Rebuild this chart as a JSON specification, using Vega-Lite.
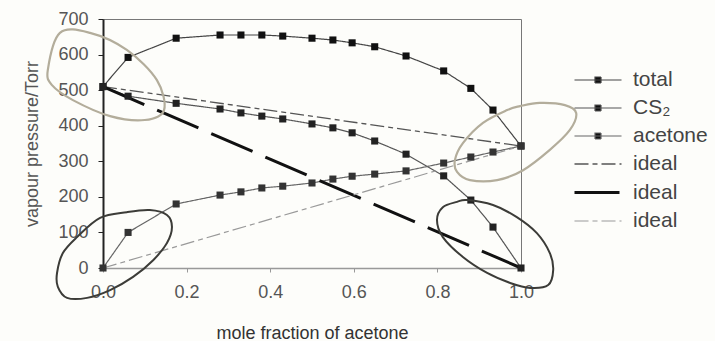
{
  "$schema": "https://vega.github.io/schema/vega-lite/v6.json",
  "width": 418,
  "height": 249,
  "autosize": "none",
  "padding": {"left": 103, "top": 19, "right": 194, "bottom": 73},
  "background": "#fdfdfa",
  "config": {
    "view": {"stroke": "#777", "strokeWidth": 1},
    "font": "Liberation Sans",
    "axisY": {"labelOverlap": false},
    "axisX": {"labelOverlap": false}
  },
  "datasets": {
    "curves": [
      {"x": 0, "p": 510, "s": "total"}, {"x": 0.06, "p": 592, "s": "total"}, {"x": 0.175, "p": 646, "s": "total"},
      {"x": 0.28, "p": 655, "s": "total"}, {"x": 0.33, "p": 655, "s": "total"}, {"x": 0.38, "p": 655, "s": "total"},
      {"x": 0.43, "p": 652, "s": "total"}, {"x": 0.5, "p": 646, "s": "total"}, {"x": 0.55, "p": 641, "s": "total"},
      {"x": 0.596, "p": 633, "s": "total"}, {"x": 0.65, "p": 622, "s": "total"}, {"x": 0.725, "p": 596, "s": "total"},
      {"x": 0.815, "p": 554, "s": "total"}, {"x": 0.88, "p": 505, "s": "total"}, {"x": 0.933, "p": 444, "s": "total"},
      {"x": 1, "p": 343, "s": "total"},
      {"x": 0, "p": 510, "s": "CS2"}, {"x": 0.06, "p": 483, "s": "CS2"}, {"x": 0.175, "p": 463, "s": "CS2"},
      {"x": 0.28, "p": 447, "s": "CS2"}, {"x": 0.33, "p": 436, "s": "CS2"}, {"x": 0.38, "p": 427, "s": "CS2"},
      {"x": 0.43, "p": 419, "s": "CS2"}, {"x": 0.5, "p": 405, "s": "CS2"}, {"x": 0.55, "p": 394, "s": "CS2"},
      {"x": 0.596, "p": 380, "s": "CS2"}, {"x": 0.65, "p": 357, "s": "CS2"}, {"x": 0.725, "p": 320, "s": "CS2"},
      {"x": 0.815, "p": 259, "s": "CS2"}, {"x": 0.88, "p": 191, "s": "CS2"}, {"x": 0.933, "p": 115, "s": "CS2"},
      {"x": 1, "p": 0, "s": "CS2"},
      {"x": 0, "p": 0, "s": "acetone"}, {"x": 0.06, "p": 100, "s": "acetone"}, {"x": 0.175, "p": 180, "s": "acetone"},
      {"x": 0.28, "p": 205, "s": "acetone"}, {"x": 0.33, "p": 214, "s": "acetone"}, {"x": 0.38, "p": 225, "s": "acetone"},
      {"x": 0.43, "p": 230, "s": "acetone"}, {"x": 0.5, "p": 239, "s": "acetone"}, {"x": 0.55, "p": 250, "s": "acetone"},
      {"x": 0.596, "p": 258, "s": "acetone"}, {"x": 0.65, "p": 264, "s": "acetone"}, {"x": 0.725, "p": 273, "s": "acetone"},
      {"x": 0.815, "p": 295, "s": "acetone"}, {"x": 0.88, "p": 312, "s": "acetone"}, {"x": 0.933, "p": 326, "s": "acetone"},
      {"x": 1, "p": 343, "s": "acetone"},
      {"x": 0, "p": 510, "s": "ideal_t"}, {"x": 1, "p": 343, "s": "ideal_t"},
      {"x": 0, "p": 510, "s": "ideal_c"}, {"x": 1, "p": 0, "s": "ideal_c"},
      {"x": 0, "p": 0, "s": "ideal_a"}, {"x": 1, "p": 343, "s": "ideal_a"}
    ],
    "ellG": [
      {"e": "e1", "i": 1, "x": -0.132, "p": 557}, {"e": "e1", "i": 2, "x": -0.103, "p": 661},
      {"e": "e1", "i": 3, "x": -0.031, "p": 661}, {"e": "e1", "i": 4, "x": 0.057, "p": 613},
      {"e": "e1", "i": 5, "x": 0.129, "p": 528}, {"e": "e1", "i": 6, "x": 0.146, "p": 444},
      {"e": "e1", "i": 7, "x": 0.1, "p": 416}, {"e": "e1", "i": 8, "x": 0.017, "p": 427},
      {"e": "e1", "i": 9, "x": -0.072, "p": 472}, {"e": "e1", "i": 10, "x": -0.122, "p": 514},
      {"e": "e3", "i": 1, "x": 0.967, "p": 444}, {"e": "e3", "i": 2, "x": 0.909, "p": 408},
      {"e": "e3", "i": 3, "x": 0.861, "p": 351}, {"e": "e3", "i": 4, "x": 0.842, "p": 304},
      {"e": "e3", "i": 5, "x": 0.847, "p": 270}, {"e": "e3", "i": 6, "x": 0.878, "p": 247},
      {"e": "e3", "i": 7, "x": 0.943, "p": 247}, {"e": "e3", "i": 8, "x": 1.005, "p": 275},
      {"e": "e3", "i": 9, "x": 1.069, "p": 332}, {"e": "e3", "i": 10, "x": 1.117, "p": 388},
      {"e": "e3", "i": 11, "x": 1.132, "p": 436}, {"e": "e3", "i": 12, "x": 1.105, "p": 458},
      {"e": "e3", "i": 13, "x": 1.045, "p": 464}, {"e": "e3", "i": 14, "x": 0.998, "p": 455}
    ],
    "ellD": [
      {"e": "e2", "i": 1, "x": -0.007, "p": 141}, {"e": "e2", "i": 2, "x": 0.057, "p": 157},
      {"e": "e2", "i": 3, "x": 0.112, "p": 163}, {"e": "e2", "i": 4, "x": 0.153, "p": 149},
      {"e": "e2", "i": 5, "x": 0.165, "p": 115}, {"e": "e2", "i": 6, "x": 0.153, "p": 70},
      {"e": "e2", "i": 7, "x": 0.12, "p": 22}, {"e": "e2", "i": 8, "x": 0.072, "p": -25},
      {"e": "e2", "i": 9, "x": 0.017, "p": -62}, {"e": "e2", "i": 10, "x": -0.038, "p": -84},
      {"e": "e2", "i": 11, "x": -0.086, "p": -84}, {"e": "e2", "i": 12, "x": -0.108, "p": -53},
      {"e": "e2", "i": 13, "x": -0.11, "p": -14}, {"e": "e2", "i": 14, "x": -0.096, "p": 42},
      {"e": "e2", "i": 15, "x": -0.062, "p": 87},
      {"e": "e4", "i": 1, "x": 0.871, "p": 191}, {"e": "e4", "i": 2, "x": 0.933, "p": 177},
      {"e": "e4", "i": 3, "x": 0.99, "p": 143}, {"e": "e4", "i": 4, "x": 1.038, "p": 98},
      {"e": "e4", "i": 5, "x": 1.069, "p": 42}, {"e": "e4", "i": 6, "x": 1.077, "p": -6},
      {"e": "e4", "i": 7, "x": 1.065, "p": -48}, {"e": "e4", "i": 8, "x": 1.022, "p": -56},
      {"e": "e4", "i": 9, "x": 0.974, "p": -42}, {"e": "e4", "i": 10, "x": 0.919, "p": -14},
      {"e": "e4", "i": 11, "x": 0.861, "p": 31}, {"e": "e4", "i": 12, "x": 0.813, "p": 87},
      {"e": "e4", "i": 13, "x": 0.799, "p": 135}, {"e": "e4", "i": 14, "x": 0.813, "p": 171},
      {"e": "e4", "i": 15, "x": 0.847, "p": 186}
    ]
  },
  "encoding": {
    "x": {
      "field": "x", "type": "quantitative",
      "scale": {"domain": [0, 1], "nice": false},
      "axis": {
        "values": [0, 0.2, 0.4, 0.6, 0.8, 1], "format": ".1f", "grid": false,
        "labelFlush": false, "labelOverlap": false,
        "domainColor": "#999", "domainWidth": 1.5, "tickColor": "#999", "tickSize": 4,
        "labelFontSize": 18, "labelColor": "#555", "labelPadding": 11,
        "title": "mole fraction of acetone", "titleFontSize": 18, "titleFontWeight": "normal",
        "titleColor": "#333", "titleY": 70, "titleBaseline": "alphabetic"
      }
    },
    "y": {
      "field": "p", "type": "quantitative",
      "scale": {"domain": [0, 700], "nice": false},
      "axis": {
        "values": [0, 100, 200, 300, 400, 500, 600, 700], "grid": false,
        "labelFlush": false, "labelOverlap": false,
        "domainColor": "#222", "domainWidth": 2, "tickColor": "#222", "tickSize": 5,
        "labelFontSize": 18, "labelColor": "#555", "labelPadding": 10,
        "title": "vapour pressure/Torr", "titleFontSize": 18, "titleFontWeight": "normal",
        "titleColor": "#555", "titleX": -71, "titleY": 124.5, "titleAngle": -90,
        "titleBaseline": "middle", "titleAlign": "center"
      }
    }
  },
  "layer": [
    {
      "data": {"name": "curves"},
      "mark": {"type": "line", "strokeCap": "butt"},
      "encoding": {
        "color": {
          "field": "s", "type": "nominal",
          "scale": {
            "domain": ["total", "CS2", "acetone", "ideal_t", "ideal_c", "ideal_a"],
            "range": ["#444", "#555", "#666", "#555", "#111", "#999"]
          },
          "legend": {
            "orient": "none", "legendX": 483.5, "legendY": 50, "title": null, "padding": 0,
            "symbolSize": 400, "rowPadding": 7, "labelOffset": 23.5,
            "labelFontSize": 21, "labelColor": "#444", "labelFont": "Liberation Sans",
            "labelExpr": "datum.value == 'CS2' ? 'CS₂' : (indexof(datum.value, 'ideal') == 0 ? 'ideal' : datum.value)",
            "encode": {
              "labels": {"update": {"fontSize": {"value": 21}}},
              "symbols": {
                "update": {
                  "shape": {"signal": "indexof(['total','CS2','acetone'], datum.value) >= 0 ? 'M-2.35,0H2.35M-0.3,-0.3H0.3V0.3H-0.3Z' : 'M-2.35,0H2.35'"},
                  "fill": {"value": "#111"},
                  "fillOpacity": {"value": 1},
                  "strokeDash": {"signal": "(datum.value == 'ideal_t' || datum.value == 'ideal_a') ? [36, 4, 6, 100] : [1, 0]"},
                  "strokeWidth": {"signal": "datum.value == 'ideal_c' ? 3 : 1.3"},
                  "opacity": {"value": 1}
                }
              }
            }
          }
        },
        "strokeDash": {
          "field": "s", "type": "nominal",
          "scale": {
            "domain": ["total", "CS2", "acetone", "ideal_t", "ideal_c", "ideal_a"],
            "range": [[1, 0], [1, 0], [1, 0], [14, 4, 5, 4], [45, 14], [14, 4, 5, 4]]
          },
          "legend": null
        },
        "strokeWidth": {
          "field": "s", "type": "nominal",
          "scale": {
            "type": "ordinal",
            "domain": ["total", "CS2", "acetone", "ideal_t", "ideal_c", "ideal_a"],
            "range": [1.2, 1.2, 1.2, 1.3, 3, 1.2]
          },
          "legend": null
        }
      }
    },
    {
      "data": {"name": "curves"},
      "transform": [{"filter": {"field": "s", "oneOf": ["total", "CS2", "acetone"]}}],
      "mark": {"type": "point", "shape": "square", "filled": true, "size": 50, "opacity": 1},
      "encoding": {
        "fill": {
          "field": "s", "type": "nominal",
          "scale": {"domain": ["total", "CS2", "acetone"], "range": ["#111", "#222", "#333"]},
          "legend": null
        }
      }
    },
    {
      "data": {"name": "ellG"},
      "mark": {"type": "line", "interpolate": "cardinal-closed", "stroke": "#b3ad9b", "strokeWidth": 2.2},
      "encoding": {
        "detail": {"field": "e", "type": "nominal"},
        "order": {"field": "i", "type": "quantitative"}
      }
    },
    {
      "data": {"name": "ellD"},
      "mark": {"type": "line", "interpolate": "cardinal-closed", "stroke": "#3c3c38", "strokeWidth": 2},
      "encoding": {
        "detail": {"field": "e", "type": "nominal"},
        "order": {"field": "i", "type": "quantitative"}
      }
    }
  ]
}
